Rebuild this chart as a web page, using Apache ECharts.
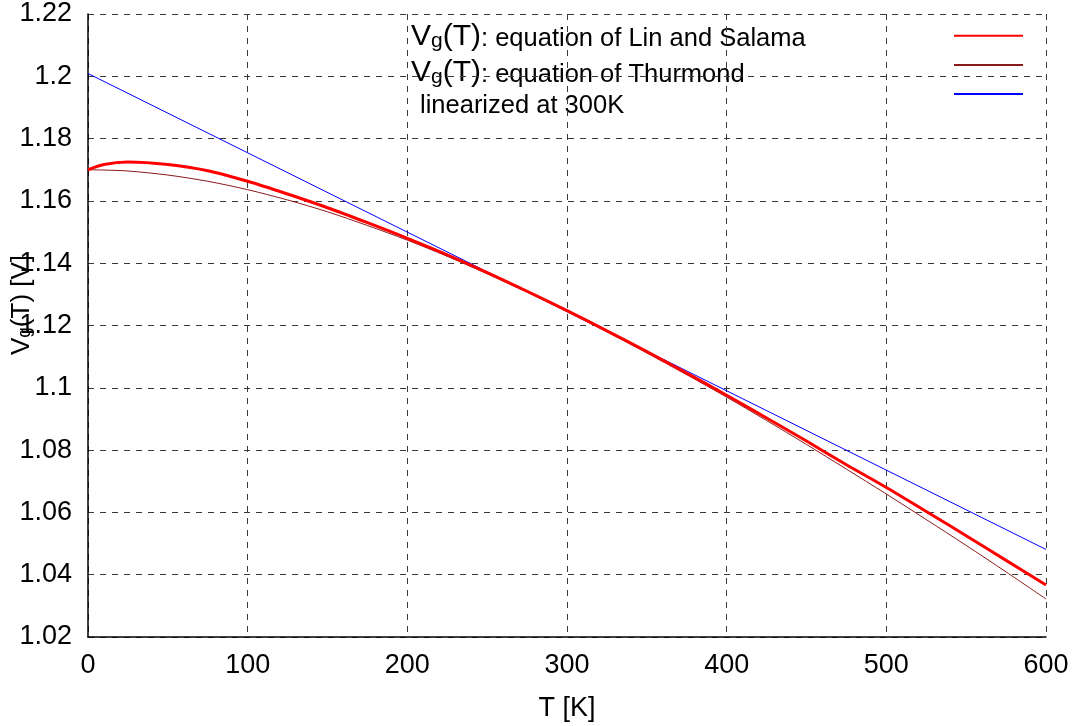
<!DOCTYPE html>
<html>
<head>
<meta charset="utf-8">
<script src="https://cdn.jsdelivr.net/npm/echarts@6/dist/echarts.min.js"></script>
<style>html,body{margin:0;padding:0;background:#fff}#c{width:1082px;height:726px}</style>
</head>
<body>
<div id="c"></div>
<script>
const temps = [0, 10, 25, 50, 75, 100, 125, 150, 175, 200, 225, 250, 275, 300, 325, 350, 375, 400, 425, 450, 475, 500, 525, 550, 575, 600];
const linSalama = [1.1700, 1.1717, 1.1725, 1.1717, 1.1697, 1.1663, 1.1622, 1.1578, 1.1530, 1.1480, 1.1427, 1.1370, 1.1310, 1.1248, 1.1183, 1.1116, 1.1047, 1.0976, 1.0903, 1.0829, 1.0753, 1.0680, 1.0603, 1.0525, 1.0446, 1.0367];
const thurmond = [1.1700, 1.1699, 1.1696, 1.1683, 1.1663, 1.1636, 1.1603, 1.1565, 1.1521, 1.1474, 1.1422, 1.1366, 1.1307, 1.1245, 1.1180, 1.1112, 1.1042, 1.0970, 1.0895, 1.0818, 1.0739, 1.0659, 1.0577, 1.0494, 1.0409, 1.0322];
const linTemps = [0, 600];
const linearized = [1.2009, 1.0481];
const seriesNames = ['Lin and Salama', 'Thurmond', 'linearized at 300K'];
const legendTexts = ['{v|V}{s|g}{v|(T)}{t|: equation of Lin and Salama}', '{v|V}{s|g}{v|(T)}{t|: equation of Thurmond}', '{t|linearized at 300K}'];
const yTitle = '{v|V}{s|g}{v|(T) [V]}';
const xTicks = [0, 100, 200, 300, 400, 500, 600];
const yTicks = [1.02, 1.04, 1.06, 1.08, 1.1, 1.12, 1.14, 1.16, 1.18, 1.2, 1.22];

const zip = (xs, ys) => xs.map((x, i) => [x, ys[i]]);
const font = 'Liberation Sans, Arial, sans-serif';
const gridLine = { show: true, lineStyle: { color: '#3a3a3a', type: [6, 6], width: 1 } };
const legendRich = {
  v: { fontSize: 30, fontFamily: font, color: '#000', verticalAlign: 'bottom' },
  s: { fontSize: 21, fontFamily: font, color: '#000', verticalAlign: 'top', padding: [12, 0, 0, 0] },
  t: { fontSize: 25.5, fontFamily: font, color: '#000', verticalAlign: 'bottom' }
};
const yTitleRich = {
  v: { fontSize: 26, fontFamily: font, color: '#000', verticalAlign: 'bottom' },
  s: { fontSize: 19, fontFamily: font, color: '#000', verticalAlign: 'top', padding: [10, 0, 0, 0] }
};

const chart = echarts.init(document.getElementById('c'));
chart.setOption({
  animation: false,
  backgroundColor: '#fff',
  grid: { left: 88, right: 36, top: 14, bottom: 89, containLabel: false, outerBoundsMode: 'none' },
  legend: {
    orient: 'vertical',
    left: 948,
    top: 23.7,
    align: 'left',
    itemWidth: 69,
    itemHeight: 14,
    itemGap: 16.6,
    selectedMode: false,
    data: seriesNames,
    formatter: () => '',
    itemStyle: { opacity: 0 },
    textStyle: { fontSize: 1 }
  },
  graphic: [
    { type: 'text', left: 411, top: 22, silent: true, style: { text: legendTexts[0], rich: legendRich } },
    { type: 'text', left: 411, top: 58, silent: true, style: { text: legendTexts[1], rich: legendRich } },
    { type: 'text', left: 420, top: 93, silent: true, style: { text: legendTexts[2], rich: legendRich } },
    { type: 'text', x: 20, y: 305, rotation: Math.PI / 2, silent: true,
      style: { text: yTitle, rich: yTitleRich, align: 'center', verticalAlign: 'middle' } }
  ],
  xAxis: {
    type: 'value',
    min: xTicks[0],
    max: xTicks[xTicks.length - 1],
    interval: 100,
    name: 'T [K]',
    nameLocation: 'middle',
    nameGap: 58,
    nameTextStyle: { fontSize: 27, fontFamily: font, color: '#000' },
    axisLine: { show: true, onZero: false, lineStyle: { color: '#000', width: 1.5 } },
    axisTick: { show: false },
    axisLabel: { fontSize: 27, fontFamily: font, color: '#000', margin: 15 },
    splitLine: gridLine
  },
  yAxis: {
    type: 'value',
    min: yTicks[0],
    max: yTicks[yTicks.length - 1],
    interval: 0.02,
    axisLine: { show: true, onZero: false, lineStyle: { color: '#000', width: 1.5 } },
    axisTick: { show: false },
    axisLabel: { fontSize: 27, fontFamily: font, color: '#000', margin: 16,
      formatter: v => String(Math.round(v * 100) / 100) },
    splitLine: gridLine
  },
  series: [
    { name: seriesNames[0], type: 'line', smooth: 0.3, symbol: 'none', z: 4,
      data: zip(temps, linSalama), lineStyle: { color: '#ff0000', width: 3 }, itemStyle: { color: '#ff0000' } },
    { name: seriesNames[1], type: 'line', smooth: 0.3, symbol: 'none', z: 3,
      data: zip(temps, thurmond), lineStyle: { color: '#8b1a1a', width: 1 }, itemStyle: { color: '#8b1a1a' } },
    { name: seriesNames[2], type: 'line', symbol: 'none', z: 2,
      data: zip(linTemps, linearized), lineStyle: { color: '#0000ff', width: 1 }, itemStyle: { color: '#0000ff' } }
  ]
});
</script>
</body>
</html>
